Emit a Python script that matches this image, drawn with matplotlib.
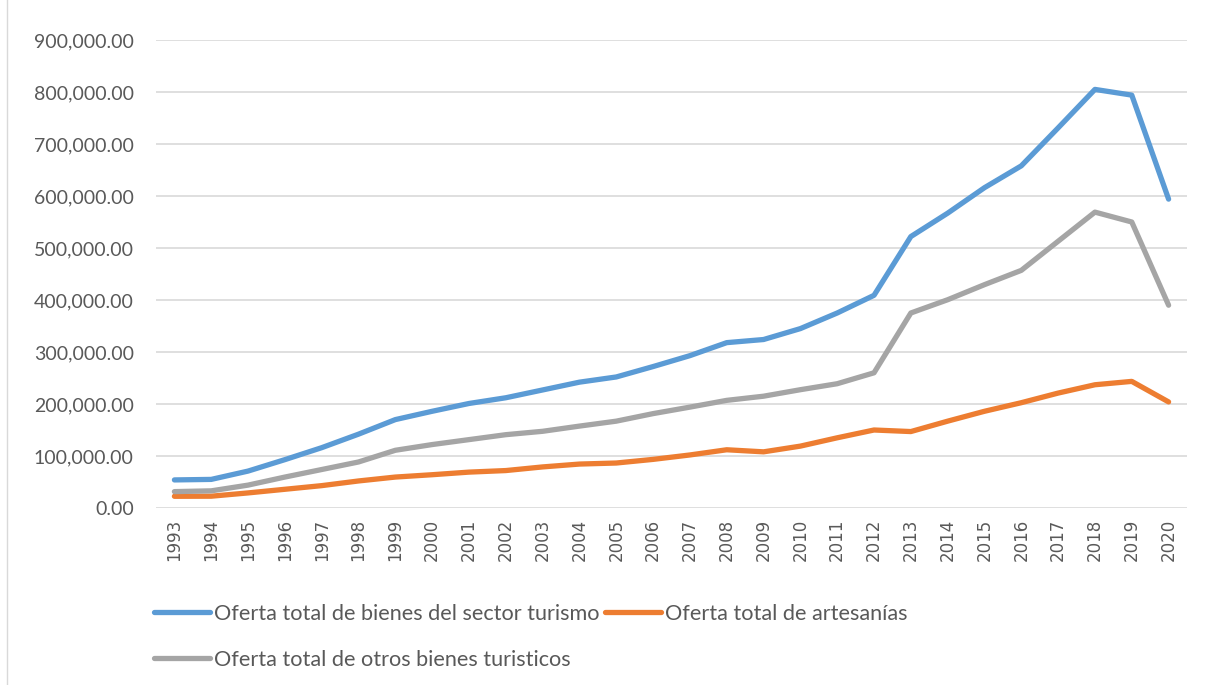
import matplotlib
matplotlib.use("Agg")
import matplotlib.pyplot as plt
from matplotlib.patches import Rectangle
from matplotlib.ticker import FuncFormatter

years = list(range(1993, 2021))

turismo = [54000, 55000, 71000, 93000, 116000, 142000, 170000, 186000, 201000, 212000,
           227000, 242000, 252000, 272000, 293000, 318000, 324000, 345000, 375000, 409000,
           522000, 567000, 616000, 658000, 731000, 805000, 794000, 594000]

artesanias = [22500, 22700, 29000, 36000, 43000, 52000, 59500, 64000, 69000, 72000,
              79000, 84500, 86500, 93500, 102000, 112000, 108000, 119000, 135000, 150000,
              147000, 167000, 186000, 202500, 221000, 237000, 243500, 204000]

otros = [31500, 33000, 44000, 59500, 74000, 88500, 111000, 122000, 131500, 141000,
         147500, 157500, 167000, 181500, 194000, 207000, 215000, 227500, 239000, 260000,
         375000, 400500, 429500, 457000, 513000, 569000, 550000, 390000]

labels = ["Oferta total de bienes del sector turismo",
          "Oferta total de artesanías",
          "Oferta total de otros bienes turisticos"]

plt.rcParams['font.family'] = ['Lato', 'DejaVu Sans']

fig = plt.figure(figsize=(12.13, 6.85), dpi=100)
ax = fig.add_axes([156 / 1213, 1 - 508 / 685, (1187 - 156) / 1213, (508 - 40) / 685])

x = list(range(len(years)))
l1, = ax.plot(x, turismo, color="#5B9BD5", lw=3.8, solid_capstyle="round")
l2, = ax.plot(x, artesanias, color="#ED7D31", lw=3.8, solid_capstyle="round")
l3, = ax.plot(x, otros, color="#A5A5A5", lw=3.8, solid_capstyle="round")

ax.set_ylim(0, 900000)
ax.set_yticks(range(0, 900001, 100000))
ax.yaxis.set_major_formatter(FuncFormatter(lambda v, p: f"{v:,.2f}"))
ax.set_xlim(-0.5, len(years) - 0.5)
ax.set_xticks(x)
ax.set_xticklabels([str(y) for y in years], rotation=90, family="DejaVu Sans")

ax.grid(axis="y", color="#D9D9D9", lw=1.2)
ax.set_axisbelow(True)
for s in ax.spines.values():
    s.set_visible(False)
ax.tick_params(axis="both", length=0, colors="#595959")
ax.tick_params(axis="y", labelsize=14, pad=16)
ax.tick_params(axis="x", labelsize=12, pad=8)

fig.legend([l1, l3, l2], [labels[0], labels[2], labels[1]], ncol=2,
           loc="upper left", bbox_to_anchor=(134 / 1213, 1 - 584 / 685),
           frameon=False, fontsize=15.6, handlelength=2.6, handletextpad=0.18,
           columnspacing=0.25, labelspacing=1.2, labelcolor="#595959")

fig.patches.append(Rectangle((7 / 1213, -0.05), 1.2, 1.2, transform=fig.transFigure,
                             fill=False, edgecolor="#D9D9D9", lw=1))

fig.savefig("out.png", dpi=100)
